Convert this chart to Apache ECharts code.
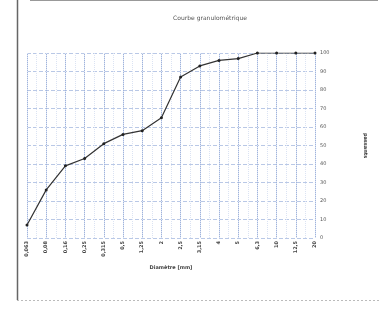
<!DOCTYPE html>
<html>
<head>
<meta charset="utf-8">
<script src="https://cdn.jsdelivr.net/npm/echarts@6/dist/echarts.min.js"></script>
<style>html,body{margin:0;padding:0;background:#fff;}#c{width:381px;height:315px;}</style>
</head>
<body>
<div id="c"></div>
<script>
const sieves = ["0,063","0,08","0,16","0,25","0,315","0,5","1,25","2","2,5","3,15","4","5","6,3","10","12,5","20"];
const passing = [7, 26, 39, 43, 51, 56, 58, 65, 87, 93, 96, 97, 100, 100, 100, 100];
const yTicks = [0, 10, 20, 30, 40, 50, 60, 70, 80, 90, 100];

const chart = echarts.init(document.getElementById('c'), null, {renderer: 'canvas'});
chart.setOption({
  animation: false,
  backgroundColor: '#fff',
  title: {
    text: 'Courbe granulométrique',
    left: 205, top: 10, textAlign: 'center',
    textStyle: {fontSize: 6, color: '#555', fontWeight: 'normal', fontFamily: 'DejaVu Sans'}
  },
  grid: {left: 27, right: 66, top: 53, bottom: 77},
  xAxis: [{
    type: 'category',
    data: sieves,
    boundaryGap: false,
    axisLine: {show: false},
    axisTick: {show: false},
    axisLabel: {rotate: 90, fontSize: 5, color: '#444', margin: 3, fontFamily: 'DejaVu Sans', fontWeight: 'bold', interval: 0},
    splitLine: {show: true, lineStyle: {color: '#9fb3dc', width: 1}},
    name: 'Diamètre [mm]',
    nameLocation: 'middle',
    nameGap: 26,
    nameTextStyle: {fontSize: 5, color: '#444', fontWeight: 'bold', fontFamily: 'DejaVu Sans'}
  }, {
    type: 'value',
    min: 0, max: sieves.length - 1, interval: 0.5,
    position: 'top',
    axisLine: {show: false}, axisTick: {show: false}, axisLabel: {show: false},
    splitLine: {show: true, lineStyle: {color: '#dbe3f3', width: 1, type: 'dotted'}}
  }],
  yAxis: {
    type: 'value',
    position: 'right',
    min: 0, max: 100, interval: 10,
    axisLine: {show: false},
    axisTick: {show: false},
    axisLabel: {fontSize: 5, color: '#555', margin: 5, fontFamily: 'DejaVu Sans',
      formatter: v => yTicks.includes(v) ? String(v) : ''},
    splitLine: {show: true, lineStyle: {color: '#b9c8e6', width: 1, type: 'dashed'}},
    name: 'passants',
    nameLocation: 'middle',
    nameGap: 48,
    nameRotate: -90,
    nameTextStyle: {fontSize: 5, color: '#333', fontWeight: 'bold', fontFamily: 'DejaVu Sans'}
  },
  series: [{
    type: 'line',
    xAxisIndex: 0,
    data: passing,
    symbol: 'circle',
    symbolSize: 3,
    itemStyle: {color: '#222'},
    lineStyle: {color: '#333', width: 1.2}
  }],
  graphic: [
    {type: 'line', shape: {x1: 17.5, y1: 0, x2: 17.5, y2: 300}, style: {stroke: '#666', lineWidth: 1.5}},
    {type: 'line', shape: {x1: 30, y1: 0.5, x2: 378, y2: 0.5}, style: {stroke: '#999', lineWidth: 1}},
    {type: 'line', shape: {x1: 17, y1: 300.5, x2: 381, y2: 300.5}, style: {stroke: '#bbb', lineWidth: 1, lineDash: [2, 2]}}
  ]
});
</script>
</body>
</html>
